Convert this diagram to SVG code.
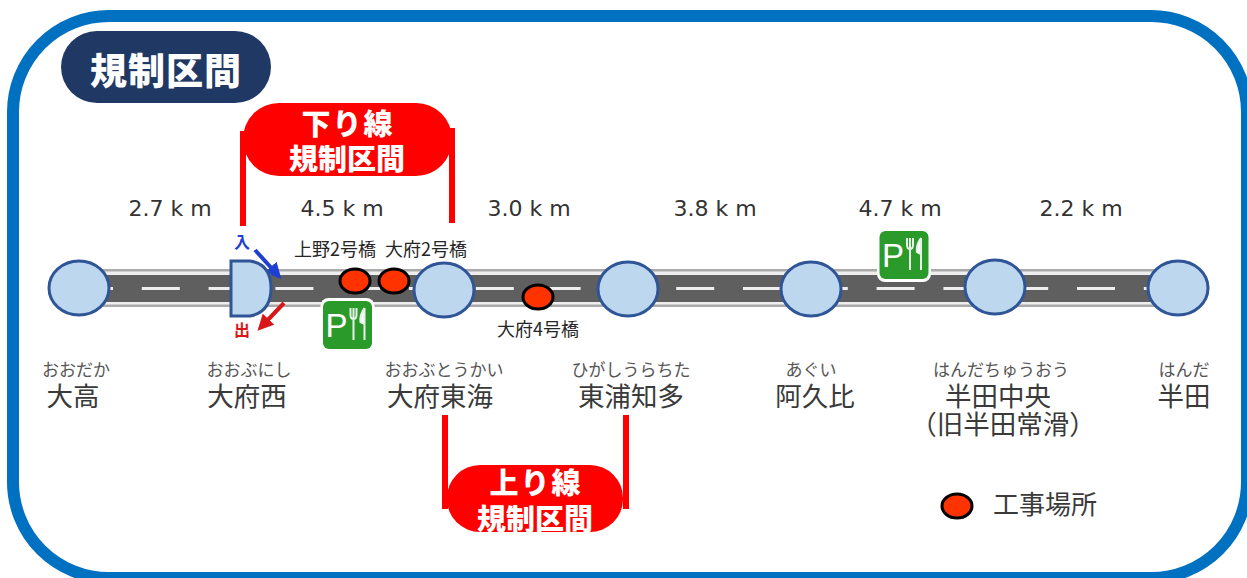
<svg xmlns="http://www.w3.org/2000/svg" width="1247" height="578" viewBox="0 0 1247 578">
<style>
text{font-family:"Noto Sans CJK JP","Liberation Sans",sans-serif}
.km{font-family:"DejaVu Sans",sans-serif;font-size:22px;fill:#333;text-anchor:middle}
.kana{font-size:17px;fill:#555;text-anchor:middle}
.st{font-size:26.500px;fill:#3a3a3a;text-anchor:middle}
.br{font-size:18px;fill:#262626;text-anchor:middle}
.ic{fill:#bdd7ee;stroke:#2f5597;stroke-width:3}
.wk{fill:#ff3300;stroke:#000;stroke-width:3}
.red{fill:#ff0000}
.wt{fill:#fff;font-weight:900;text-anchor:middle}
.pa{fill:#fff;font-family:"Liberation Sans",sans-serif;font-size:33px}
</style>
<defs>
<g id="pa"><rect x="-27" y="-27" width="54" height="54" rx="8" fill="#fff"/><rect x="-24.500" y="-24" width="49" height="48" rx="6" fill="#2a9a2a"/>
<text class="pa" x="-22" y="12">P</text>
<path d="M6-17V-7M3-17V-10Q3-6 6-6T9-10V-17M6-7V15" fill="none" stroke="#e8f2e8" stroke-width="2"/>
<path d="M17-17V15M17-17Q12-10 13-3L17-1" fill="#fff" stroke="#e8f2e8" stroke-width="2"/></g>
<marker id="ab" markerWidth="4" markerHeight="4" refX="2" refY="2" orient="auto"><path d="M0 0L4 2L0 4Z" fill="#1f3fd0"/></marker>
<marker id="ar" markerWidth="4" markerHeight="4" refX="2" refY="2" orient="auto"><path d="M0 0L4 2L0 4Z" fill="#d81818"/></marker>
</defs>
<rect width="1247" height="578" fill="#fff"/>
<rect x="13" y="16" width="1234" height="562" rx="96" fill="none" stroke="#0070c0" stroke-width="12"/>
<g id="title"><rect x="61" y="31" width="210" height="72" rx="36" fill="#1f3864"/><text class="wt" x="166" y="85" font-size="37" letter-spacing="1">規制区間</text></g>
<g id="road">
<rect x="79" y="269" width="1100" height="38" fill="#aaa"/>
<rect x="79" y="271.500" width="1100" height="33" fill="#eee"/>
<rect x="79" y="275" width="1100" height="27" fill="#5f5f5f"/>
<path d="M75 288.500H1180" stroke="#eee" stroke-width="3" stroke-dasharray="38 28.800" fill="none"/>
</g>
<g id="down-section"><rect class="red" x="243" y="103" width="209" height="73" rx="36"/>
<rect class="red" x="240" y="131" width="6" height="95"/><rect class="red" x="449" y="128" width="6" height="95"/>
<text class="wt" x="348" y="135" font-size="29" letter-spacing="2">下り線</text><text class="wt" x="347" y="170" font-size="29">規制区間</text></g>
<g id="up-section"><rect class="red" x="447" y="465" width="176" height="67" rx="33"/>
<rect class="red" x="442" y="415" width="6" height="94"/><rect class="red" x="623" y="415" width="6" height="94"/>
<text class="wt" x="536" y="494" font-size="29" letter-spacing="2">上り線</text><text class="wt" x="535" y="530" font-size="29">規制区間</text></g>
<g id="distances">
<text class="km" x="170" y="216">2.7 k m</text><text class="km" x="342" y="216">4.5 k m</text><text class="km" x="529" y="216">3.0 k m</text><text class="km" x="715" y="216">3.8 k m</text><text class="km" x="900" y="216">4.7 k m</text><text class="km" x="1081" y="216">2.2 k m</text>
</g>
<g id="connectors">
<path d="M255 250L276 273" stroke="#1f3fd0" stroke-width="4" marker-end="url(#ab)" fill="none"/>
<path d="M284 303L263 325" stroke="#d81818" stroke-width="4" marker-end="url(#ar)" fill="none"/>
</g>
<g id="ic-ootaka"><ellipse class="ic" cx="79" cy="288" rx="30" ry="27"/><text class="kana" x="76" y="376">おおだか</text><text class="st" x="73" y="406">大高</text></g>
<g id="ic-oobunishi"><path class="ic" d="M231 261H250Q271 264 271 288T250 316H231Z"/><text class="kana" x="249" y="376">おおぶにし</text><text class="st" x="247" y="406">大府西</text><text x="242" y="248" font-size="16" font-weight="700" fill="#1f3fd0" text-anchor="middle">入</text><text x="242" y="336" font-size="16" font-weight="700" fill="#d81818" text-anchor="middle">出</text></g>
<g id="ic-oobutokai"><ellipse class="ic" cx="444" cy="290" rx="30" ry="27"/><text class="kana" x="444" y="376">おおぶとうかい</text><text class="st" x="440" y="406">大府東海</text></g>
<g id="ic-higashiura"><ellipse class="ic" cx="628" cy="289" rx="30" ry="27"/><text class="kana" x="631" y="376">ひがしうらちた</text><text class="st" x="631" y="406">東浦知多</text></g>
<g id="ic-agui"><ellipse class="ic" cx="811" cy="289" rx="30" ry="27"/><text class="kana" x="811" y="376">あぐい</text><text class="st" x="815" y="406">阿久比</text></g>
<g id="ic-handachuo"><ellipse class="ic" cx="995" cy="287" rx="30" ry="27"/><text class="kana" x="1001" y="376">はんだちゅうおう</text><text class="st" x="998" y="406">半田中央</text><text class="st" x="1003" y="434">（旧半田常滑）</text></g>
<g id="ic-handa"><ellipse class="ic" cx="1178" cy="288" rx="30" ry="27"/><text class="kana" x="1184" y="376">はんだ</text><text class="st" x="1184" y="406">半田</text></g>
<g id="pa-1"><use href="#pa" x="347.500" y="325"/></g>
<g id="pa-2"><use href="#pa" x="904" y="255"/></g>
<g id="work-ueno2"><ellipse class="wk" cx="355" cy="281" rx="15" ry="12"/><text class="br" x="335" y="256">上野2号橋</text></g>
<g id="work-oobu2"><ellipse class="wk" cx="394" cy="281" rx="15" ry="12"/><text class="br" x="426" y="256">大府2号橋</text></g>
<g id="work-oobu4"><ellipse class="wk" cx="538" cy="297" rx="15" ry="12"/><text class="br" x="538" y="336">大府4号橋</text></g>
<g id="legend"><ellipse class="wk" cx="957" cy="506" rx="15" ry="12"/><text x="1045" y="514" font-size="26" fill="#3a3a3a" text-anchor="middle">工事場所</text></g>
</svg>
